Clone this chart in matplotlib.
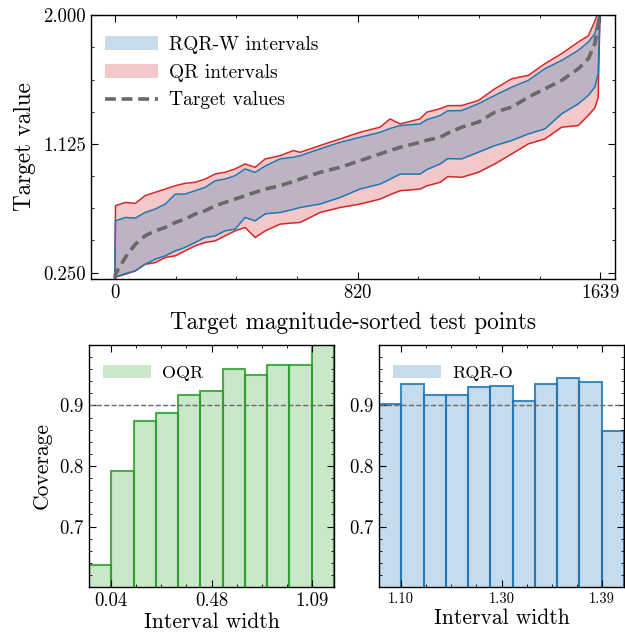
import numpy as np
import matplotlib
matplotlib.use("Agg")
import matplotlib.pyplot as plt
from matplotlib.ticker import AutoMinorLocator, FixedLocator

plt.rcParams['font.family'] = 'serif'
plt.rcParams['font.serif'] = ['cmr10']
plt.rcParams['mathtext.fontset'] = 'cm'
plt.rcParams['axes.formatter.use_mathtext'] = True
plt.rcParams['axes.unicode_minus'] = False

# --- top panel: sorted test points ---
test_idx = [0, 2, 35, 69, 102, 136, 170, 204, 237, 271, 305, 339, 372, 406, 440, 474,
            508, 558, 603, 626, 693, 761, 828, 896, 930, 964, 1031, 1054, 1099, 1125,
            1172, 1228, 1284, 1341, 1397, 1453, 1510, 1566, 1600, 1622, 1633, 1639]
target_vals = [0.21, 0.24, 0.353, 0.443, 0.500, 0.534, 0.557, 0.591, 0.614, 0.648, 0.671,
               0.705, 0.727, 0.750, 0.773, 0.796, 0.818, 0.841, 0.870, 0.886, 0.932, 0.966,
               1.011, 1.057, 1.080, 1.102, 1.136, 1.150, 1.170, 1.198, 1.239, 1.273, 1.341,
               1.375, 1.443, 1.500, 1.557, 1.636, 1.705, 1.807, 1.943, 2.0]
rqr_lo = [0.216, 0.22, 0.243, 0.262, 0.307, 0.341, 0.364, 0.398, 0.421, 0.455, 0.489,
          0.500, 0.534, 0.546, 0.625, 0.602, 0.650, 0.659, 0.680, 0.693, 0.716, 0.761,
          0.818, 0.852, 0.885, 0.920, 0.920, 0.950, 0.989, 1.025, 1.023, 1.068, 1.114,
          1.148, 1.193, 1.227, 1.330, 1.398, 1.455, 1.511, 1.602, 1.99]
rqr_hi = [0.216, 0.602, 0.625, 0.621, 0.659, 0.682, 0.716, 0.784, 0.784, 0.807, 0.830,
          0.875, 0.886, 0.909, 0.955, 0.932, 0.975, 1.023, 1.035, 1.045, 1.091, 1.136,
          1.170, 1.204, 1.230, 1.250, 1.261, 1.290, 1.318, 1.350, 1.352, 1.398, 1.455,
          1.511, 1.557, 1.636, 1.693, 1.761, 1.818, 1.875, 1.966, 2.03]
qr_lo = [0.216, 0.22, 0.239, 0.262, 0.307, 0.318, 0.353, 0.364, 0.398, 0.432, 0.455,
         0.466, 0.500, 0.534, 0.557, 0.489, 0.534, 0.580, 0.588, 0.591, 0.659, 0.693,
         0.716, 0.750, 0.780, 0.807, 0.818, 0.840, 0.864, 0.903, 0.898, 0.932, 0.989,
         1.057, 1.125, 1.159, 1.239, 1.250, 1.320, 1.370, 1.440, 1.99]
qr_hi = [0.216, 0.705, 0.727, 0.721, 0.773, 0.796, 0.818, 0.841, 0.857, 0.864, 0.886,
         0.921, 0.932, 0.955, 0.989, 0.966, 1.023, 1.045, 1.080, 1.068, 1.114, 1.159,
         1.204, 1.239, 1.295, 1.261, 1.295, 1.341, 1.364, 1.385, 1.386, 1.420, 1.500,
         1.568, 1.591, 1.670, 1.739, 1.818, 1.860, 1.960, 2.02, 2.05]

# --- bottom panels: coverage per interval-width bin ---
oqr_cov = [0.637, 0.792, 0.875, 0.887, 0.917, 0.924, 0.960, 0.951, 0.966, 0.966, 1.0]
rqr_cov = [0.903, 0.936, 0.918, 0.918, 0.930, 0.932, 0.908, 0.936, 0.945, 0.938, 0.858]
oqr_ticklabels = ['0.04', '0.48', '1.09']
rqr_ticklabels = ['1.10', '1.30', '1.39']

blue = '#1f77b4'
red = '#d62728'
green = '#2ca02c'


def style_ax(ax):
    ax.tick_params(which='both', direction='in', top=True, right=True)
    ax.tick_params(which='major', length=5, width=0.8)
    ax.tick_params(which='minor', length=2.5, width=0.6)
    ax.xaxis.set_minor_locator(AutoMinorLocator())
    for s in ax.spines.values():
        s.set_linewidth(1.0)


fig = plt.figure(figsize=(6.25, 6.34), dpi=100)

ax = fig.add_axes([0.145, 0.560, 0.839, 0.416])
qr_fill = ax.fill_between(test_idx, qr_lo, qr_hi, color=red, alpha=0.25, lw=0)
ax.plot(test_idx, qr_lo, color=red, lw=1.1)
ax.plot(test_idx, qr_hi, color=red, lw=1.1)
rqr_fill = ax.fill_between(test_idx, rqr_lo, rqr_hi, color=blue, alpha=0.25, lw=0)
ax.plot(test_idx, rqr_lo, color=blue, lw=1.1)
ax.plot(test_idx, rqr_hi, color=blue, lw=1.1)
tline, = ax.plot(test_idx, target_vals, color='dimgray', lw=2.6, dashes=(3, 1.6))
ax.set_xlim(-82, 1690)
ax.set_ylim(0.207, 2.0)
ax.set_xticks([0, 820, 1639])
ax.set_yticks([0.25, 1.125, 2.0])
ax.set_yticklabels(['0.250', '1.125', '2.000'])
style_ax(ax)
ax.yaxis.set_minor_locator(AutoMinorLocator())
ax.tick_params(labelsize=13.5)
ax.set_xlabel('Target magnitude-sorted test points', fontsize=16.7, labelpad=7)
ax.set_ylabel('Target value', fontsize=16.7, labelpad=5)
ax.legend([rqr_fill, qr_fill, tline], ['RQR-W intervals', 'QR intervals', 'Target values'],
          loc='upper left', bbox_to_anchor=(0, 0.977), frameon=False, fontsize=14,
          handlelength=2.7, handletextpad=0.6, labelspacing=0.5, borderaxespad=0.35)

pos = np.arange(len(oqr_cov))

ax1 = fig.add_axes([0.1424, 0.074, 0.392, 0.382])
ax1.bar(pos, oqr_cov, width=1.0, color=green, alpha=0.25, lw=0, label='OQR')
ax1.bar(pos, oqr_cov, width=1.0, fill=False, edgecolor=green, lw=1.5, alpha=0.85)
ax1.axhline(0.9, color='dimgray', lw=1.0, ls='--')
ax1.set_xlim(-0.5, 10.5)
ax1.set_ylim(0.6, 1.0)
ax1.xaxis.set_major_locator(FixedLocator([0.5, 5, 9.5]))
ax1.set_xticklabels(oqr_ticklabels)
ax1.set_yticks([0.7, 0.8, 0.9])
style_ax(ax1)
ax1.yaxis.set_minor_locator(AutoMinorLocator(5))
ax1.tick_params(labelsize=13.5)
ax1.set_xlabel('Interval width', fontsize=15.5, labelpad=2)
ax1.set_ylabel('Coverage', fontsize=15.5, labelpad=5)
ax1.legend(loc='upper left', bbox_to_anchor=(0, 0.971), frameon=False, fontsize=13,
           handlelength=2.7, handletextpad=0.6, borderaxespad=0.35)

ax2 = fig.add_axes([0.6064, 0.074, 0.392, 0.382])
ax2.bar(pos, rqr_cov, width=1.0, color=blue, alpha=0.25, lw=0, label='RQR-O')
ax2.bar(pos, rqr_cov, width=1.0, fill=False, edgecolor=blue, lw=1.5, alpha=0.85)
ax2.axhline(0.9, color='dimgray', lw=1.0, ls='--')
ax2.set_xlim(-0.5, 10.5)
ax2.set_ylim(0.6, 1.0)
ax2.xaxis.set_major_locator(FixedLocator([0.5, 5, 9.5]))
ax2.set_xticklabels(rqr_ticklabels)
ax2.set_yticks([0.7, 0.8, 0.9])
style_ax(ax2)
ax2.yaxis.set_minor_locator(AutoMinorLocator(5))
ax2.tick_params(axis='y', labelsize=13.5)
ax2.tick_params(axis='x', labelsize=10.5)
ax2.set_xlabel('Interval width', fontsize=15.5, labelpad=2)
ax2.legend(loc='upper left', bbox_to_anchor=(0, 0.971), frameon=False, fontsize=13,
           handlelength=2.7, handletextpad=0.6, borderaxespad=0.35)

fig.savefig('out.png', dpi=100)
